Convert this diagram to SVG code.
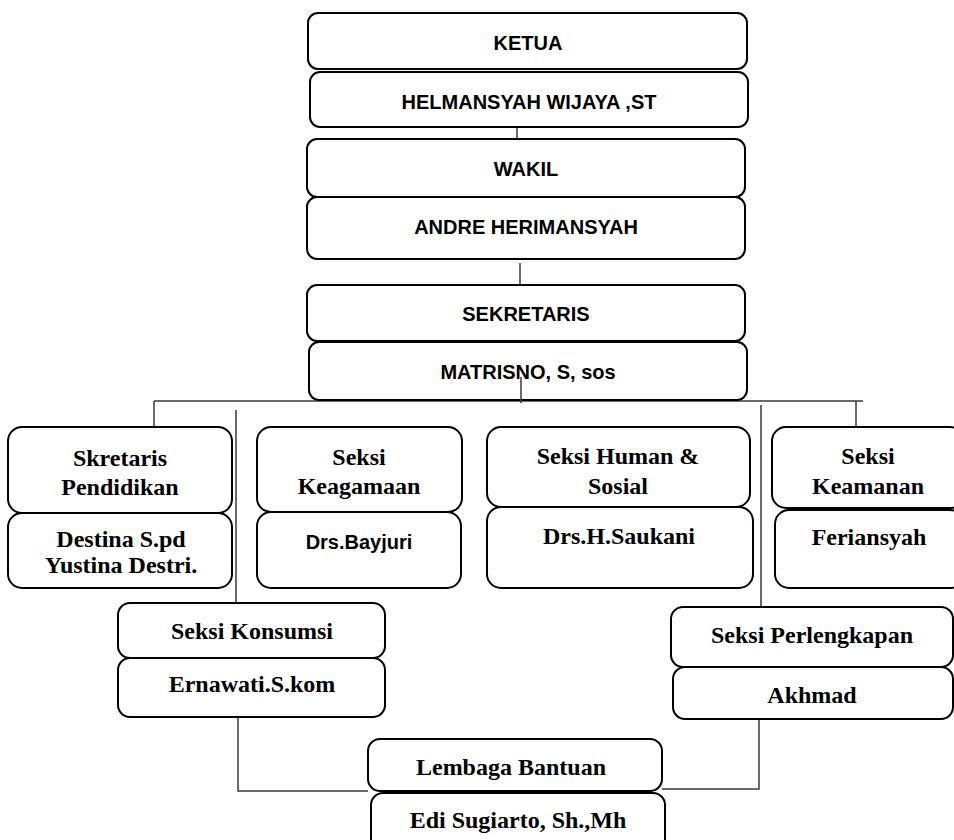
<svg xmlns="http://www.w3.org/2000/svg" width="954" height="840" viewBox="0 0 954 840">
<style>
.b{fill:#fff;stroke:#000;stroke-width:2}
.s{font-family:"Liberation Sans",Arial,sans-serif;font-weight:bold;font-size:20px;fill:#000;text-anchor:middle}
.t{font-family:"Liberation Serif","Times New Roman",serif;font-weight:bold;font-size:24px;fill:#000;text-anchor:middle}
.c{fill:none;stroke:#3a3a3a;stroke-width:1.5}
</style>
<rect width="954" height="840" fill="#fff"/>
<g id="connectors">
<path class="c" d="M517,127V139M520,263V285M154,401H863M154,401V427M856,401V427M236,410V603M761,405V607M238,717V791H368M759,719V789H662"/>
</g>
<g id="ketua"><rect class="b" x="308" y="13" width="439" height="56" rx="10"/><text class="s" x="528" y="50">KETUA</text></g>
<g id="helmansyah"><rect class="b" x="310" y="72" width="438" height="55" rx="10"/><text class="s" x="529" y="109">HELMANSYAH WIJAYA ,ST</text></g>
<g id="wakil"><rect class="b" x="307" y="139" width="438" height="58" rx="10"/><text class="s" x="526" y="176">WAKIL</text></g>
<g id="andre"><rect class="b" x="307" y="197" width="438" height="62" rx="10"/><text class="s" x="526" y="234">ANDRE HERIMANSYAH</text></g>
<g id="sekretaris"><rect class="b" x="307" y="285" width="438" height="56" rx="10"/><text class="s" x="526" y="321" font-size="19">SEKRETARIS</text></g>
<g id="matrisno"><rect class="b" x="309" y="342" width="438" height="58" rx="10"/><text class="s" x="528" y="379">MATRISNO, S, sos</text></g>
<path class="c" d="M521,377V403"/>
<g id="pendidikan"><rect class="b" x="8" y="427" width="224" height="86" rx="14"/><text class="t" x="120" y="466">Skretaris</text><text class="t" x="120" y="495">Pendidikan</text></g>
<g id="destina"><rect class="b" x="8" y="513" width="224" height="75" rx="14"/><text class="t" x="121" y="547" font-size="21">Destina S.pd</text><text class="t" x="121" y="573" font-size="21">Yustina Destri.</text></g>
<g id="keagamaan"><rect class="b" x="257" y="427" width="205" height="85" rx="14"/><text class="t" x="359" y="465">Seksi</text><text class="t" x="359" y="494">Keagamaan</text></g>
<g id="bayjuri"><rect class="b" x="257" y="512" width="204" height="76" rx="14"/><text class="s" x="359" y="549">Drs.Bayjuri</text></g>
<g id="human"><rect class="b" x="487" y="427" width="263" height="80" rx="14"/><text class="t" x="618" y="464">Seksi Human &amp;</text><text class="t" x="618" y="494">Sosial</text></g>
<g id="saukani"><rect class="b" x="487" y="507" width="266" height="81" rx="14"/><text class="t" x="619" y="544">Drs.H.Saukani</text></g>
<g id="keamanan"><rect class="b" x="772" y="427" width="192" height="81" rx="14"/><text class="t" x="868" y="464">Seksi</text><text class="t" x="868" y="494">Keamanan</text></g>
<g id="feriansyah"><rect class="b" x="775" y="510" width="189" height="78" rx="14"/><text class="t" x="869" y="545">Feriansyah</text></g>
<g id="konsumsi"><rect class="b" x="118" y="603" width="267" height="55" rx="12"/><text class="t" x="252" y="639">Seksi Konsumsi</text></g>
<g id="ernawati"><rect class="b" x="118" y="658" width="267" height="59" rx="12"/><text class="t" x="252" y="692">Ernawati.S.kom</text></g>
<g id="perlengkapan"><rect class="b" x="671" y="607" width="282" height="60" rx="12"/><text class="t" x="812" y="643">Seksi Perlengkapan</text></g>
<g id="akhmad"><rect class="b" x="673" y="667" width="280" height="52" rx="12"/><text class="t" x="812" y="703">Akhmad</text></g>
<g id="lembaga"><rect class="b" x="368" y="739" width="294" height="52" rx="12"/><text class="t" x="511" y="775">Lembaga Bantuan</text></g>
<g id="edi"><rect class="b" x="371" y="793" width="294" height="60" rx="12"/><text class="t" x="518" y="828">Edi Sugiarto, Sh.,Mh</text></g>
</svg>
